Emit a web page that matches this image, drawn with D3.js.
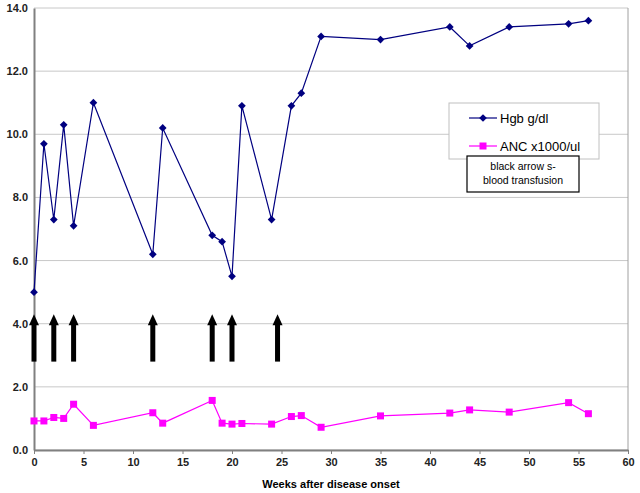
<!DOCTYPE html>
<html>
<head>
<meta charset="utf-8">
<script src="https://cdn.jsdelivr.net/npm/d3@7"></script>
<style>
  body { margin: 0; background: #fff; }
  svg { display: block; font-family: Arial, "Liberation Sans", sans-serif; }
</style>
</head>
<body>
<div id="chart"></div>
<script>
// weeks after onset, and the two lab series
const weeks = [0, 1, 2, 3, 4, 6, 12, 13, 18, 19, 20, 21, 24, 26, 27, 29, 35, 42, 44, 48, 54, 56];
const hgb   = [5.0, 9.7, 7.3, 10.3, 7.1, 11.0, 6.2, 10.2, 6.8, 6.6, 5.5, 10.9, 7.3, 10.9, 11.3, 13.1, 13.0, 13.4, 12.8, 13.4, 13.5, 13.6];
const anc   = [0.92, 0.92, 1.03, 1.0, 1.45, 0.78, 1.18, 0.85, 1.57, 0.85, 0.82, 0.84, 0.82, 1.06, 1.09, 0.72, 1.08, 1.17, 1.27, 1.2, 1.5, 1.15];

// weeks where a transfusion was given (black arrows)
const transfusions = [0, 2, 4, 12, 18, 20, 24.6];

const xTicks = [0, 5, 10, 15, 20, 25, 30, 35, 40, 45, 50, 55, 60];
const yTicks = [0, 2, 4, 6, 8, 10, 12, 14];

const width = 640, height = 493;
const margin = { top: 8, right: 12, bottom: 43, left: 34 };

const svg = d3.select("#chart")
  .append("svg")
  .attr("width", width)
  .attr("height", height);

const x = d3.scaleLinear().domain([0, 60]).range([margin.left, width - margin.right]);
const y = d3.scaleLinear().domain([0, 14]).range([height - margin.bottom, margin.top]);

// horizontal gridlines
svg.append("g")
  .selectAll("line")
  .data(yTicks)
  .enter()
  .append("line")
    .attr("x1", x(0))
    .attr("x2", x(60))
    .attr("y1", d => y(d))
    .attr("y2", d => y(d))
    .attr("stroke", "#c8c8c8")
    .attr("stroke-width", 1);

// right border of plot area
svg.append("line")
  .attr("x1", x(60)).attr("x2", x(60))
  .attr("y1", y(14)).attr("y2", y(0))
  .attr("stroke", "#a0a0a0");

// y axis
const yAxis = svg.append("g")
  .attr("transform", `translate(${x(0)},0)`)
  .call(d3.axisLeft(y).tickValues(yTicks).tickFormat(d3.format(".1f")).tickSize(0).tickPadding(6));
yAxis.select(".domain").attr("stroke", "#808080").attr("stroke-width", 2);
yAxis.selectAll("text").style("font-size", "11px").style("font-weight", "bold").attr("fill", "#222");

// x axis
const xAxis = svg.append("g")
  .attr("transform", `translate(0,${y(0)})`)
  .call(d3.axisBottom(x).tickValues(xTicks).tickSize(4).tickSizeOuter(0).tickPadding(4));
xAxis.select(".domain").attr("stroke", "#808080").attr("stroke-width", 2);
xAxis.selectAll(".tick line").attr("stroke", "#808080");
xAxis.selectAll("text").style("font-size", "11px").style("font-weight", "bold").attr("fill", "#222");

// x axis title
svg.append("text")
  .attr("x", (x(0) + x(60)) / 2)
  .attr("y", 488)
  .attr("text-anchor", "middle")
  .style("font-size", "11px")
  .style("font-weight", "bold")
  .text("Weeks after disease onset");

// transfusion arrows
const arrows = svg.append("g");
transfusions.forEach(w => {
  const cx = x(w);
  const top = y(4.3), headBase = y(3.95), bottom = y(2.8);
  arrows.append("rect")
    .attr("x", cx - 2.5)
    .attr("y", headBase - 1)
    .attr("width", 5)
    .attr("height", bottom - headBase + 1)
    .attr("fill", "#000");
  arrows.append("path")
    .attr("d", `M${cx},${top} L${cx - 5},${headBase} L${cx + 5},${headBase} Z`)
    .attr("fill", "#000");
});

const hgbData = weeks.map((w, i) => ({ w: w, v: hgb[i] }));
const ancData = weeks.map((w, i) => ({ w: w, v: anc[i] }));

const line = d3.line().x(d => x(d.w)).y(d => y(d.v));

// ANC series
svg.append("path")
  .datum(ancData)
  .attr("d", line)
  .attr("fill", "none")
  .attr("stroke", "#ff00ff")
  .attr("stroke-width", 1.2);
svg.selectAll(".anc")
  .data(ancData)
  .enter()
  .append("rect")
    .attr("class", "anc")
    .attr("x", d => x(d.w) - 3.5)
    .attr("y", d => y(d.v) - 3.5)
    .attr("width", 7)
    .attr("height", 7)
    .attr("fill", "#ff00ff");

// Hgb series
svg.append("path")
  .datum(hgbData)
  .attr("d", line)
  .attr("fill", "none")
  .attr("stroke", "#000080")
  .attr("stroke-width", 1.2);
// square rotated 45deg gives the wide Excel-style diamond
const diamond = d3.symbol().type(d3.symbolSquare).size(30);
svg.selectAll(".hgb")
  .data(hgbData)
  .enter()
  .append("path")
    .attr("class", "hgb")
    .attr("transform", d => `translate(${x(d.w)},${y(d.v)}) rotate(45)`)
    .attr("d", diamond)
    .attr("fill", "#000080");

// legend
const legend = svg.append("g").attr("transform", "translate(449,103)");
legend.append("rect")
  .attr("width", 150)
  .attr("height", 56)
  .attr("fill", "#fff")
  .attr("stroke", "#c0c0c0");

const legendItems = [
  { label: "Hgb g/dl", color: "#000080", dy: 15 },
  { label: "ANC x1000/ul", color: "#ff00ff", dy: 43 }
];
legendItems.forEach((it, i) => {
  const g = legend.append("g").attr("transform", `translate(0,${it.dy})`);
  g.append("line")
    .attr("x1", 20).attr("x2", 48)
    .attr("stroke", it.color).attr("stroke-width", 1.2);
  if (i === 0) {
    g.append("path").attr("transform", "translate(34,0) rotate(45)").attr("d", diamond).attr("fill", it.color);
  } else {
    g.append("rect").attr("x", 30.5).attr("y", -3.5).attr("width", 7).attr("height", 7).attr("fill", it.color);
  }
  g.append("text")
    .attr("x", 51)
    .attr("y", 5)
    .style("font-size", "13px")
    .text(it.label);
});

// note box
const note = svg.append("g").attr("transform", "translate(467,156)");
note.append("rect")
  .attr("width", 112)
  .attr("height", 36)
  .attr("fill", "#fff")
  .attr("stroke", "#000")
  .attr("stroke-width", 1.2);
note.append("text")
  .attr("x", 56).attr("y", 14)
  .attr("text-anchor", "middle")
  .style("font-size", "10.5px")
  .text("black arrow s-");
note.append("text")
  .attr("x", 56).attr("y", 28)
  .attr("text-anchor", "middle")
  .style("font-size", "10.5px")
  .text("blood transfusion");
</script>
</body>
</html>
